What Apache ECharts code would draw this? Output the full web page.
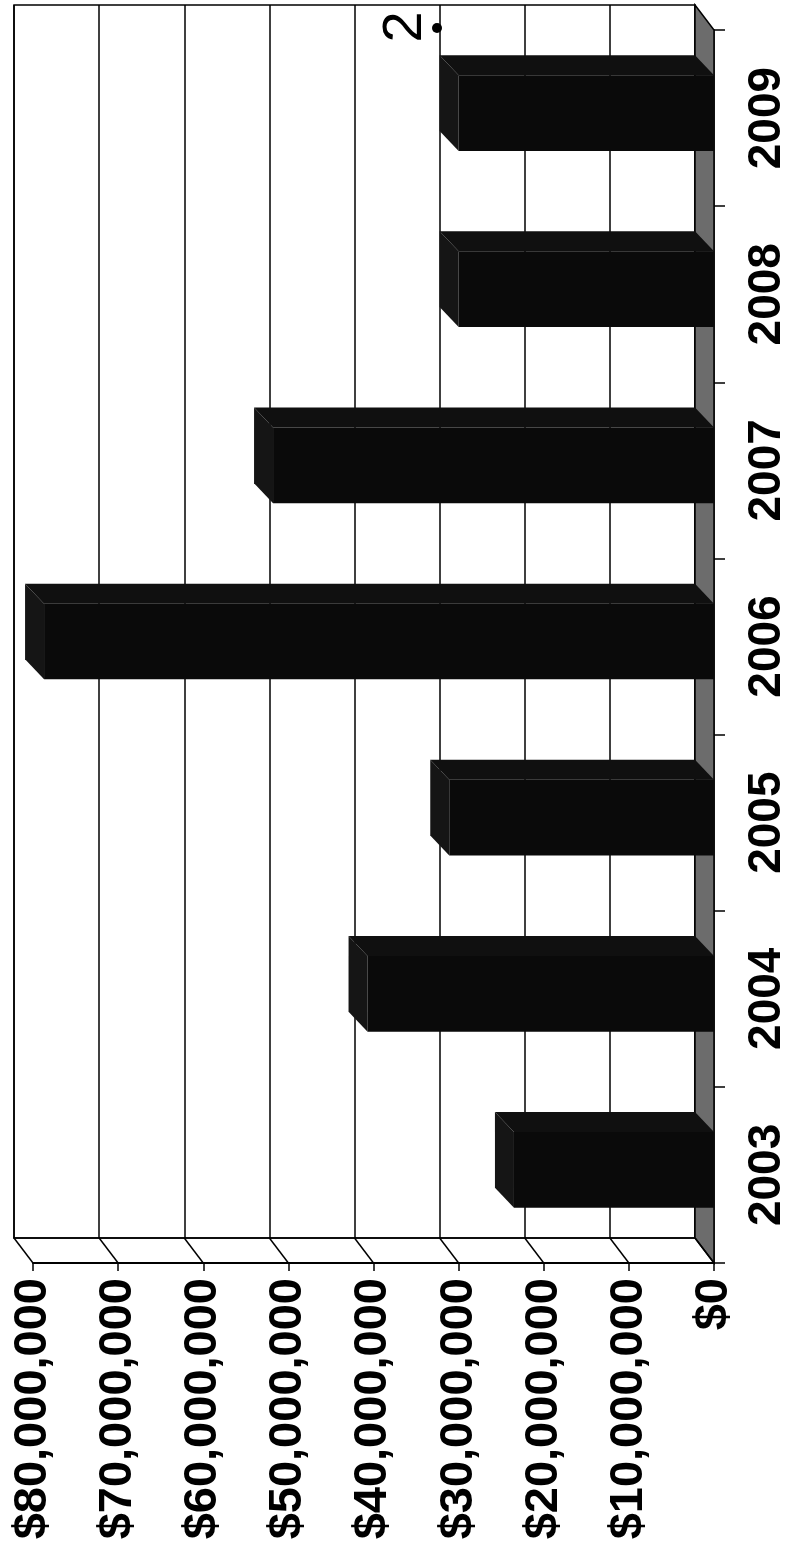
<!DOCTYPE html>
<html>
<head>
<meta charset="utf-8">
<script src="https://cdn.jsdelivr.net/npm/echarts@6/dist/echarts.min.js"></script>
<style>
html,body{margin:0;padding:0;background:#fff;}
#chart{width:792px;height:1545px;}
</style>
</head>
<body>
<div id="chart"></div>
<script>
// ---- data ----
var years = ['2003', '2004', '2005', '2006', '2007', '2008', '2009'];
var amounts = [23500000, 40700000, 31100000, 78700000, 51800000, 30000000, 30000000];
var valueTicks = [0, 10000000, 20000000, 30000000, 40000000, 50000000, 60000000, 70000000, 80000000];

var DX = 19, DY = 25;      // depth offset of the floor / front plane
var BDX = 19, BDY = 20;    // depth of each bar

function money(v) {
  return '$' + Math.round(v).toString().replace(/\B(?=(\d{3})+(?!\d))/g, ',');
}

var chart = echarts.init(document.getElementById('chart'), null, {renderer: 'canvas'});

var barData = amounts.map(function (v, i) { return [v, i]; });

var option = {
  animation: false,
  backgroundColor: '#ffffff',
  grid: [
    {left: 14, right: 97, top: 5, bottom: 307, show: true, backgroundColor: '#ffffff',
     borderColor: '#000', borderWidth: 1.5},
    {left: 14 + DX, right: 97 - DX, top: 5 + DY, bottom: 307 - DY, show: false}
  ],
  xAxis: [
    {gridIndex: 0, type: 'value', inverse: true, min: 0, max: 80000000, interval: 10000000,
     axisLine: {show: true, lineStyle: {color: '#000', width: 1.5}},
     axisTick: {show: false}, axisLabel: {show: false},
     splitLine: {show: true, lineStyle: {color: '#000', width: 1.5}}},
    {gridIndex: 1, type: 'value', inverse: true, min: 0, max: 80000000, interval: 10000000,
     axisLine: {show: true, onZero: false, lineStyle: {color: '#000', width: 2}},
     axisTick: {show: true, length: 8, lineStyle: {color: '#000', width: 1.5}},
     splitLine: {show: false},
     axisLabel: {rotate: 90, margin: 15, color: '#000', fontFamily: 'Liberation Sans, Arial, sans-serif',
                 fontWeight: 'bold', fontSize: 47, formatter: function (v) { return money(v); }}}
  ],
  yAxis: [
    {gridIndex: 0, type: 'category', data: years,
     axisLine: {show: false}, axisTick: {show: false}, axisLabel: {show: false}, splitLine: {show: false}},
    {gridIndex: 1, type: 'category', data: years, position: 'right',
     axisLine: {show: true, onZero: false, lineStyle: {color: '#000', width: 1.5}},
     axisTick: {show: true, length: 11, lineStyle: {color: '#000', width: 1.5}},
     splitLine: {show: false},
     axisLabel: {rotate: 90, margin: 30, color: '#000', fontFamily: 'Liberation Sans, Arial, sans-serif',
                 fontWeight: 'bold', fontSize: 46}}
  ],
  series: [
    {
      // floor (right side, grey) drawn from the grid rectangle
      type: 'custom', xAxisIndex: 0, yAxisIndex: 0, silent: true, z: 1,
      data: [[0, 0]],
      renderItem: function (params, api) {
        var cs = params.coordSys;
        var x = api.coord([0, 0])[0];
        var top = cs.y, bot = cs.y + cs.height;
        return {
          type: 'polygon',
          shape: {points: [[x, top], [x, bot], [x + DX, bot + DY], [x + DX, top + DY]]},
          style: {fill: '#6c6c6c', stroke: '#000', lineWidth: 1.5}
        };
      }
    },
    {
      // connectors from the back wall to the front axis
      type: 'custom', xAxisIndex: 0, yAxisIndex: 0, silent: true, z: 2,
      data: valueTicks.map(function (v) { return [v, 0]; }),
      renderItem: function (params, api) {
        var cs = params.coordSys;
        var x = api.coord([api.value(0), 0])[0];
        var bot = cs.y + cs.height;
        return {
          type: 'line',
          shape: {x1: x, y1: bot, x2: x + DX, y2: bot + DY},
          style: {stroke: '#000', lineWidth: 1.5}
        };
      }
    },
    {
      // 3D bars
      type: 'custom', xAxisIndex: 0, yAxisIndex: 0, z: 5,
      data: barData,
      encode: {x: 0, y: 1},
      renderItem: function (params, api) {
        var v = api.value(0), idx = api.value(1);
        var p = api.coord([v, idx]);
        var z0 = api.coord([0, idx]);
        var band = api.size([0, 1])[1];
        var w = band * 0.43;
        var xb = p[0], xe = z0[0];
        var y0 = p[1] - w / 2, y1 = p[1] + w / 2;
        return {
          type: 'group',
          children: [
            {type: 'polygon', shape: {points: [[xb, y0], [xe, y0], [xe + BDX, y0 + BDY], [xb + BDX, y0 + BDY]]},
             style: {fill: '#101010'}},
            {type: 'polygon', shape: {points: [[xb, y0], [xb + BDX, y0 + BDY], [xb + BDX, y1 + BDY], [xb, y1]]},
             style: {fill: '#151515'}},
            {type: 'rect', shape: {x: xb + BDX, y: y0 + BDY, width: xe - xb, height: w},
             style: {fill: '#0a0a0a'}}
          ]
        };
      }
    }
  ],
  graphic: [
    {type: 'text', x: 406, y: 27, rotation: Math.PI / 2,
     style: {text: '2', fontSize: 56, fontFamily: 'Liberation Sans, Arial, sans-serif', fill: '#000',
             align: 'center', verticalAlign: 'middle'}},
    {type: 'circle', shape: {cx: 437, cy: 28, r: 5}, style: {fill: '#000'}}
  ]
};

chart.setOption(option);
</script>
</body>
</html>
